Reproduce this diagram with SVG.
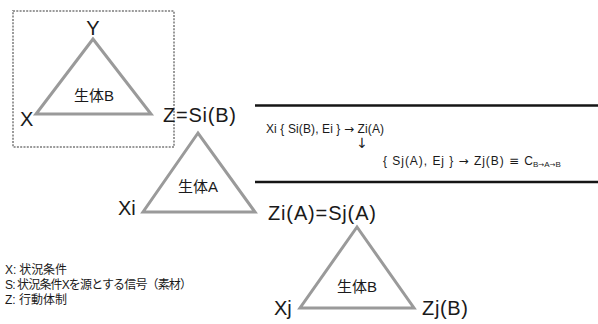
<svg xmlns="http://www.w3.org/2000/svg" width="598" height="324" viewBox="0 0 598 324">
  <style>
    .tri { fill: none; stroke: #9a9a9a; stroke-width: 3; stroke-linejoin: miter; }
    .lbl { font-family: "Liberation Sans", Arial, sans-serif; font-size: 20px; fill: #1a1a1a; }
    .org { font-family: "Liberation Sans", "Noto Sans CJK JP", sans-serif; font-size: 15px; fill: #1a1a1a; text-anchor: middle; }
    .eq { font-family: "Liberation Sans", "DejaVu Sans", sans-serif; font-size: 12px; fill: #1a1a1a; }
    .sym { font-family: "DejaVu Sans", sans-serif; font-size: 12px; }
    .down { font-family: "DejaVu Sans", sans-serif; font-size: 14px; fill: #1a1a1a; text-anchor: middle; }
    .sub { font-size: 8px; }
    .subsym { font-family: "DejaVu Sans", sans-serif; font-size: 7px; }
    .legend { font-family: "Liberation Sans", "Noto Sans CJK JP", sans-serif; font-size: 12px; fill: #1a1a1a; }
    .rule { stroke: #151515; stroke-width: 2.5; }
    .frame { fill: none; stroke: #9a9a9a; stroke-width: 2; stroke-dasharray: 2 1.3; }
  </style>

  <!-- scope of organism B (first stage) -->
  <rect class="frame" x="13" y="11" width="161" height="136"/>

  <g id="organismB1">
    <polygon class="tri" points="93,39 36,114 151,114"/>
    <text class="org" x="94" y="101">生体B</text>
    <text class="lbl" x="93" y="35" text-anchor="middle">Y</text>
    <text class="lbl" x="20" y="126">X</text>
    <text class="lbl" x="163" y="122" textLength="73" lengthAdjust="spacing">Z=Si(B)</text>
  </g>

  <g id="organismA">
    <polygon class="tri" points="198,133 143,212 255,212"/>
    <text class="org" x="198" y="192">生体A</text>
    <text class="lbl" x="118" y="215">Xi</text>
    <text class="lbl" x="268" y="220" textLength="108" lengthAdjust="spacing">Zi(A)=Sj(A)</text>
  </g>

  <g id="organismB2">
    <polygon class="tri" points="357,227 300,308 414,308"/>
    <text class="org" x="357" y="292">生体B</text>
    <text class="lbl" x="274" y="315">Xj</text>
    <text class="lbl" x="422" y="315" textLength="46" lengthAdjust="spacing">Zj(B)</text>
  </g>

  <!-- formula block -->
  <g id="formula">
    <line class="rule" x1="255" y1="105.5" x2="598" y2="105.5"/>
    <line class="rule" x1="255" y1="182" x2="598" y2="182"/>
    <text class="eq" x="266" y="133" textLength="118" lengthAdjust="spacing">Xi { Si(B), Ei } <tspan class="sym">→</tspan> Zi(A)</text>
    <text class="down" x="362" y="148">↓</text>
    <text class="eq" x="383" y="165" textLength="150" lengthAdjust="spacing">{ Sj(A), Ej } <tspan class="sym">→</tspan> Zj(B) <tspan class="sym">≡</tspan> C</text>
    <text class="eq sub" x="533" y="167">B<tspan class="subsym">→</tspan>A<tspan class="subsym">→</tspan>B</text>
  </g>

  <g id="legend">
    <text class="legend" x="5" y="274" textLength="62" lengthAdjust="spacing">X: 状況条件</text>
    <text class="legend" x="5" y="289" textLength="187" lengthAdjust="spacing">S: 状況条件Xを源とする信号（素材）</text>
    <text class="legend" x="5" y="304" textLength="62" lengthAdjust="spacing">Z: 行動体制</text>
  </g>
</svg>
